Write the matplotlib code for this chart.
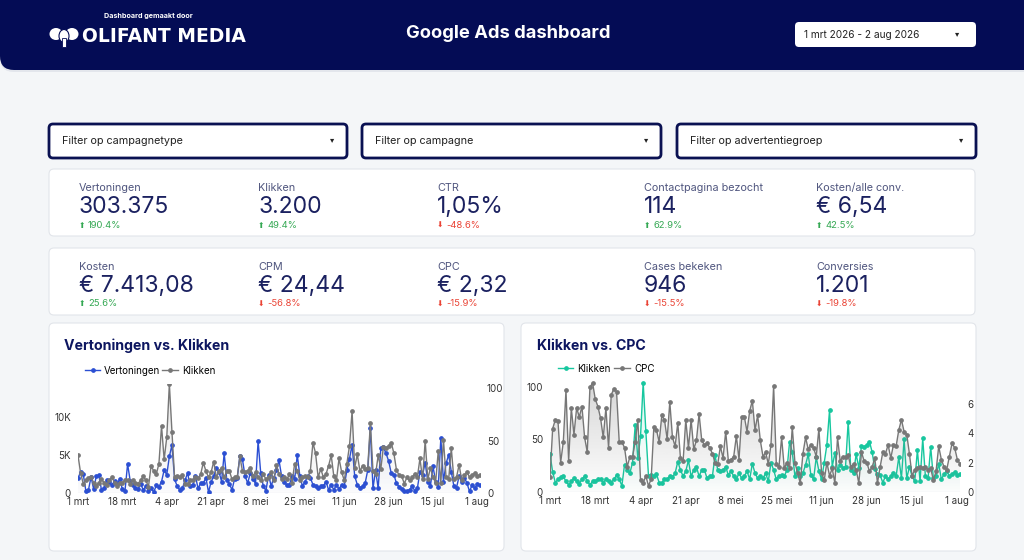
import numpy as np
import matplotlib
matplotlib.use('Agg')
import matplotlib.pyplot as plt
from matplotlib.patches import FancyBboxPatch, Ellipse, Polygon, Rectangle
from matplotlib.lines import Line2D
from matplotlib.colors import to_rgb

plt.rcParams['font.family'] = ['Inter', 'DejaVu Sans']

# ---- data ----
date_range = '1 mrt 2026 - 2 aug 2026'
filters = ['Filter op campagnetype', 'Filter op campagne', 'Filter op advertentiegroep']

kpi_row1_labels = ['Vertoningen', 'Klikken', 'CTR', 'Contactpagina bezocht', 'Kosten/alle conv.']
kpi_row1_values = ['303.375', '3.200', '1,05%', '114', '€ 6,54']
kpi_row1_change = [190.4, 49.4, -48.6, 62.9, 42.5]

kpi_row2_labels = ['Kosten', 'CPM', 'CPC', 'Cases bekeken', 'Conversies']
kpi_row2_values = ['€ 7.413,08', '€ 24,44', '€ 2,32', '946', '1.201']
kpi_row2_change = [25.6, -56.8, -15.9, -15.5, -19.8]

date_labels = ['1 mrt', '18 mrt', '4 apr', '21 apr', '8 mei', '25 mei',
               '11 jun', '28 jun', '15 jul', '1 aug']

# daily values, 1 mrt .. 2 aug
klikken = [36, 19, 9, 12, 14, 15, 10, 7, 10, 13, 10, 8, 12, 15, 10, 7, 10, 10, 12, 12,
           9, 12, 10, 9, 12, 16, 12, 6, 26, 21, 18, 28,
           64, 32, 53, 104, 58, 15,
           16, 15, 17, 9, 9, 12, 12, 15, 14, 18, 29, 21, 15, 20, 30, 15, 21, 24, 15, 21, 21, 13, 15,
           15, 35, 21, 20, 21, 24, 16, 20, 15, 12, 18, 13, 15, 20, 12, 27, 18, 13, 15, 13, 18, 10,
           28, 21, 12, 15, 16,
           15, 21, 48, 38, 15, 23, 15, 18, 26, 36, 16, 12, 33, 20, 12, 28, 45,
           78, 24, 37, 21, 26, 23, 24, 67, 21, 18, 36, 23, 44, 43, 45, 48, 38, 22, 17, 16,
           9, 15, 12, 15, 18, 15, 33, 13, 50, 13, 24, 15, 10, 40, 10, 51, 15, 13, 43, 13,
           15, 27, 12, 17, 20, 15, 17, 19, 16, 17]

vertoningen = [2.0, 2.7, 2.5, 0.3, 0.4, 2.1, 0.5, 2.2, 2.3, 0.4, 0.6, 1.7, 1.4, 1.0, 1.6, 1.2,
               1.8, 0.5, 0.3, 3.8, 1.6, 1.0, 0.7, 0.5, 1.2, 0.4, 0.9, 0.3, 0.7, 0.1, 1.0, 0.8,
               1.5, 3.0, 2.4, 4.8, 6.3, 1.8,
               0.9, 0.4, 0.6, 1.7, 2.6, 0.9, 1.1, 2.2, 0.6, 1.3,
               1.3, 2.0, 0.1, 1.5, 2.2, 3.3, 2.8, 1.5, 5.2, 1.7, 1.2, 0.4, 1.9,
               2.0, 4.8, 4.4, 2.2, 1.3, 2.6, 1.9, 1.2, 6.8, 2.6,
               0.9, 0.3, 2.4, 0.9, 2.0, 3.0, 4.3, 2.2, 1.5, 1.0, 1.1, 2.2, 1.8, 5.0, 2.2, 0.9, 1.5,
               2.2, 2.0, 1.1, 0.9, 0.7, 0.9, 0.9, 1.5, 0.4, 1.1, 0.4, 1.1, 0.5, 1.1, 0.9, 3.0, 4.5,
               6.3, 2.2, 1.1, 0.7, 0.9, 1.3, 3.0, 8.5, 0.6, 3.0, 0.6, 5.9, 6.0, 5.2, 4.2, 2.6,
               2.4, 1.3, 0.8, 0.5,
               0.2, 0.3, 0.4, 0.9, 0.3, 0.6, 2.8, 2.4, 4.0, 1.5, 0.9, 3.5, 1.5, 0.8, 7.2, 1.5,
               3.9, 5.0, 2.8, 0.9, 0.7, 2.2, 1.4, 2.0, 1.3, 0.2, 1.1, 0.6, 1.2, 1.0]
vertoningen = [v * 1000 for v in vertoningen]

cpc = [1.0, 4.3, 4.9, 4.8, 2.0, 3.4, 6.9, 2.1, 5.7, 3.9, 5.7, 5.1, 5.8, 3.7, 2.7, 7.1,
       7.4, 6.3, 5.8, 5.0, 3.7, 5.7, 3.0, 6.6, 7.0, 6.8, 3.4, 3.4, 3.0, 1.7, 2.4, 2.4,
       3.4, 4.9, 0.8, 0.6, 1.1, 0.4, 0.9, 4.4, 4.2, 3.4, 5.2, 4.9, 3.6, 6.1, 3.7, 3.1,
       4.7, 2.3, 2.1, 4.9, 3.0, 4.9, 2.9, 3.5, 5.3, 3.5, 3.2, 3.3, 3.0, 2.6, 2.0, 1.9,
       3.1, 2.3, 4.1, 2.1, 2.2, 2.4, 3.8, 2.2, 5.1, 5.1, 4.1, 5.5, 6.2, 4.2, 5.2, 3.5,
       2.4, 2.7, 1.9, 3.2, 7.2, 1.9, 1.7, 3.7, 1.6, 2.0, 1.6, 4.4, 2.0, 1.3, 0.6, 2.6,
       3.7, 2.9, 3.2, 3.0, 2.4, 4.3, 1.3, 0.8, 2.0, 1.1, 1.6, 0.6, 3.7, 2.1, 2.4, 2.4,
       2.5, 1.7, 1.9, 1.5, 0.6, 2.7, 2.1, 2.0, 1.4, 1.7, 2.3, 0.6, 1.7, 2.7, 2.6, 3.2,
       2.3, 3.2, 3.1, 4.2, 4.9, 4.1, 3.9, 2.6, 1.1, 1.5, 1.6, 1.7, 1.6, 1.7, 1.5, 1.6,
       0.8, 1.4, 3.1, 2.2, 1.7, 1.5, 2.4, 3.3, 3.0, 2.2, 1.9]

days = np.arange(len(klikken))
tick_days = np.arange(0, len(klikken), 17)

# ---- colours ----
NAVY = '#040c55'
BG = '#f4f6f8'
BLUE = '#2b4fd3'
GREY = '#777777'
TEAL = '#17c79f'
GREEN = '#34a853'
RED = '#ea4335'

W, H = 1024, 560
fig = plt.figure(figsize=(10.24, 5.6), dpi=100)
fig.patch.set_facecolor(BG)
bg = fig.add_axes([0, 0, 1, 1])
bg.set_xlim(0, W)
bg.set_ylim(H, 0)
bg.axis('off')


def box(x0, y0, x1, y1, fc, ec='none', lw=0, r=4, z=1):
    p = FancyBboxPatch((x0, y0), x1 - x0, y1 - y0,
                       boxstyle=f'round,pad=0,rounding_size={r}',
                       fc=fc, ec=ec, lw=lw, zorder=z)
    bg.add_patch(p)


def txt(x, y, s, size, color, weight='normal', ha='left', family=None):
    kw = {}
    if family:
        kw['family'] = family
    bg.text(x, y, s, fontsize=size, color=color, fontweight=weight,
            ha=ha, va='center', zorder=5, **kw)


def px_rect(x0, y0, x1, y1):
    return [x0 / W, 1 - y1 / H, (x1 - x0) / W, (y1 - y0) / H]


# header
box(0, -30, W + 30, 72, '#e3e6ec', r=14, z=1)
box(0, -30, W + 30, 70, NAVY, r=14, z=2)
txt(104, 16, 'Dashboard gemaakt door', 5.2, 'white', 'bold')
# elephant logo
bg.add_patch(Ellipse((56, 34), 13, 12, fc='white', zorder=3))
bg.add_patch(Ellipse((72, 34), 13, 12, fc='white', zorder=3))
bg.add_patch(Ellipse((64, 36), 10, 13, fc='white', ec=NAVY, lw=0.8, zorder=4))
bg.add_patch(Rectangle((62, 38), 4, 9, fc='white', ec=NAVY, lw=0.6, zorder=4))
txt(82, 36, 'OLIFANT MEDIA', 13.5, 'white', 'heavy', family='DejaVu Sans')
txt(508, 33, 'Google Ads dashboard', 13.2, 'white', 'bold', ha='center')
box(795, 22, 976, 47, 'white', r=4, z=3)
txt(862, 35, date_range, 7.3, '#222222', ha='center')
txt(957, 34, '▾', 6, '#222222', ha='center', family='DejaVu Sans')

# filter dropdowns
for (x0, x1), label in zip([(49, 347), (362, 661), (677, 976)], filters):
    box(x0, 124, x1, 158, 'white', ec='#0a1152', lw=2, r=4, z=3)
    txt(x0 + 13, 141, label, 7.8, '#222222')
    txt(x1 - 15, 140, '▾', 6, '#222222', ha='center', family='DejaVu Sans')

# KPI cards
kpi_x = [79, 258, 437, 644, 816]
for y0, labels, values, changes in [(169, kpi_row1_labels, kpi_row1_values, kpi_row1_change),
                                    (248, kpi_row2_labels, kpi_row2_values, kpi_row2_change)]:
    box(49, y0, 975, y0 + 67, 'white', ec='#e2e5ea', lw=0.8, r=5, z=3)
    for x, lab, val, ch in zip(kpi_x, labels, values, changes):
        txt(x, y0 + 19, lab, 7.8, '#50567f')
        txt(x, y0 + 38, val, 16.5, '#1b2160')
        col = GREEN if ch > 0 else RED
        arrow = '⬆' if ch > 0 else '⬇'
        txt(x, y0 + 56, arrow, 5.5, col, family='DejaVu Sans')
        txt(x + 9, y0 + 56, f'{ch:.1f}%', 6.8, col)

# chart cards
box(49, 323, 504, 551, 'white', ec='#e2e5ea', lw=0.8, r=5, z=3)
box(521, 323, 976, 551, 'white', ec='#e2e5ea', lw=0.8, r=5, z=3)
txt(64, 346, 'Vertoningen vs. Klikken', 10.2, '#0d1660', 'bold')
txt(537, 346, 'Klikken vs. CPC', 10.2, '#0d1660', 'bold')


def grad_fill(ax, x, y, color, a_top=0.22, a_bot=0.01, z=1):
    ymax = ax.get_ylim()[1]
    verts = [(x[0], 0)] + list(zip(x, y)) + [(x[-1], 0)]
    poly = Polygon(verts, closed=True, fc='none', ec='none')
    ax.add_patch(poly)
    arr = np.zeros((100, 1, 4))
    arr[:, :, :3] = to_rgb(color)
    arr[:, 0, 3] = np.linspace(a_bot, a_top, 100)
    im = ax.imshow(arr, extent=[x[0], x[-1], 0, ymax], origin='lower',
                   aspect='auto', zorder=z)
    im.set_clip_path(poly)


def style(ax):
    for s in ax.spines.values():
        s.set_visible(False)
    ax.set_facecolor('none')
    ax.tick_params(length=0, labelsize=7, colors='#333333', pad=5)
    ax.tick_params(axis='x', pad=3)


line_kw = dict(lw=1.0, marker='o', ms=2.4)

# left chart
ax1 = fig.add_axes(px_rect(78, 384, 480, 493))
ax1b = ax1.twinx()
ax1.set_ylim(0, 14300)
ax1b.set_ylim(0, 104)
grad_fill(ax1, days, vertoningen, BLUE, a_top=0.12)
grad_fill(ax1b, days, klikken, GREY, a_top=0.18)
ax1.plot(days, vertoningen, color=BLUE, zorder=3, **line_kw)
ax1b.plot(days, klikken, color=GREY, zorder=3, **line_kw)
ax1.axhline(0, color='#d5d8dd', lw=0.8, zorder=0)
for a in (ax1, ax1b):
    a.set_xlim(0, len(days) - 1)
    style(a)
ax1.set_xticks(tick_days)
ax1.set_xticklabels(date_labels)
ax1.set_yticks([0, 5000, 10000])
ax1.set_yticklabels(['0', '5K', '10K'])
ax1b.set_yticks([0, 50, 100])
fig.legend(handles=[Line2D([], [], color=BLUE, **line_kw), Line2D([], [], color=GREY, **line_kw)],
           labels=['Vertoningen', 'Klikken'], loc='upper left',
           bbox_to_anchor=(76 / W, 1 - 357 / H), ncol=2, frameon=False, fontsize=7,
           handlelength=1.6, handletextpad=0.4, columnspacing=0.2)

# right chart
ax2 = fig.add_axes(px_rect(550, 381, 960, 492))
ax2b = ax2.twinx()
ax2.set_ylim(0, 105.7)
ax2b.set_ylim(0, 7.53)
grad_fill(ax2, days, klikken, TEAL, a_top=0.15)
grad_fill(ax2b, days, cpc, GREY, a_top=0.3)
ax2.plot(days, klikken, color=TEAL, zorder=3, **line_kw)
ax2b.plot(days, cpc, color=GREY, zorder=3, **line_kw)
ax2.axhline(0, color='#d5d8dd', lw=0.8, zorder=0)
for a in (ax2, ax2b):
    a.set_xlim(0, len(days) - 1)
    style(a)
ax2.set_xticks(tick_days)
ax2.set_xticklabels(date_labels)
ax2.set_yticks([0, 50, 100])
ax2b.set_yticks([0, 2, 4, 6])
fig.legend(handles=[Line2D([], [], color=TEAL, **line_kw), Line2D([], [], color=GREY, **line_kw)],
           labels=['Klikken', 'CPC'], loc='upper left',
           bbox_to_anchor=(549 / W, 1 - 355 / H), ncol=2, frameon=False, fontsize=7,
           handlelength=1.6, handletextpad=0.4, columnspacing=0.4)

fig.savefig('out.png', dpi=100, facecolor=BG)
